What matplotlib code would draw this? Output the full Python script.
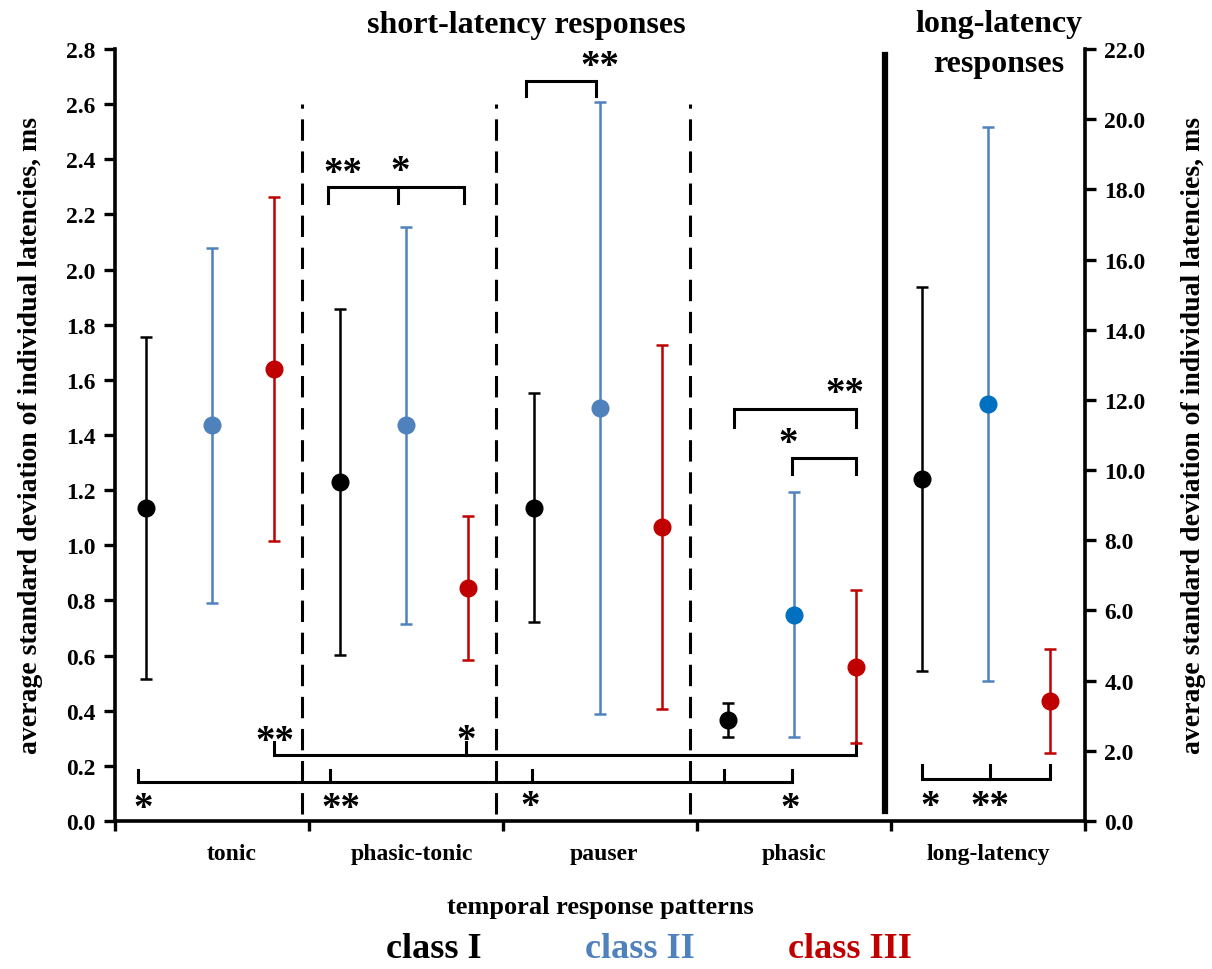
import matplotlib
matplotlib.use("Agg")
import matplotlib.pyplot as plt
import numpy as np

plt.rcParams["font.family"] = ["Liberation Serif", "DejaVu Serif"]
plt.rcParams["font.weight"] = "bold"
plt.rcParams["axes.labelweight"] = "bold"

# data: short-latency patterns (left axis) and long-latency (right axis), ms
patterns = ["tonic", "phasic-tonic", "pauser", "phasic", "long-latency"]
classes = ["class I", "class II", "class III"]
short_mean = {
    "class I": [1.135, 1.23, 1.137, 0.367],
    "class II": [1.435, 1.435, 1.497, 0.748],
    "class III": [1.64, 0.845, 1.068, 0.56],
}
short_sd = {
    "class I": [0.62, 0.627, 0.417, 0.062],
    "class II": [0.643, 0.72, 1.11, 0.445],
    "class III": [0.625, 0.26, 0.66, 0.278],
}
long_mean = {"class I": 9.75, "class II": 11.88, "class III": 3.42}
long_sd = {"class I": 5.48, "class II": 7.9, "class III": 1.49}

# significance brackets: (leg x positions, bar y, leg end y) in left-axis units
brackets = [
    ([1.10, 1.46, 1.80], 2.30, 2.24),
    ([2.12, 2.48], 2.684, 2.63),
    ([3.19, 3.82], 1.494, 1.43),
    ([3.49, 3.82], 1.317, 1.26),
    ([0.82, 1.81, 3.82], 0.238, 0.285),
    ([0.12, 1.11, 2.15, 3.14, 3.49], 0.14, 0.185),
    ([4.16, 4.51, 4.82], 0.152, 0.203),
]
stars = [
    ("**", 1.175, 2.376), ("*", 1.47, 2.383), ("**", 2.50, 2.764),
    ("**", 3.76, 1.578), ("*", 3.47, 1.396),
    ("**", 0.825, 0.316), ("*", 1.81, 0.319),
    ("*", 0.144, 0.073), ("**", 1.165, 0.073), ("*", 2.14, 0.08), ("*", 3.48, 0.07),
    ("*", 4.20, 0.08), ("**", 4.51, 0.08),
]

offsets = {"class I": -0.34, "class II": 0.0, "class III": 0.32}
line_colors = {"class I": "#000000", "class II": "#4F81BD", "class III": "#C00000"}
marker_colors = {
    "class I": ["#000000"] * 5,
    "class II": ["#4F81BD", "#4F81BD", "#4F81BD", "#0070C0", "#0070C0"],
    "class III": ["#C00000"] * 5,
}

fig = plt.figure(figsize=(12.12, 9.70), dpi=100)
ax = fig.add_axes([115 / 1212, 148 / 970, 970 / 1212, 772 / 970])
ax2 = ax.twinx()

ax.set_xlim(0, 5)
ax.set_ylim(0, 2.8)
ax2.set_ylim(0, 22)

groups = np.arange(4) + 0.5
for cls in classes:
    xs = groups + offsets[cls]
    for i, x in enumerate(xs):
        ax.errorbar(x, short_mean[cls][i], yerr=short_sd[cls][i], fmt="o",
                    color=line_colors[cls], mfc=marker_colors[cls][i],
                    mec=marker_colors[cls][i], ms=12, elinewidth=1.8,
                    capsize=4.5, capthick=1.8, zorder=3)
    ax2.errorbar(4.5 + offsets[cls], long_mean[cls], yerr=long_sd[cls], fmt="o",
                 color=line_colors[cls], mfc=marker_colors[cls][4],
                 mec=marker_colors[cls][4], ms=12, elinewidth=1.8,
                 capsize=4.5, capthick=1.8, zorder=3)

# separators between response patterns
for x in [0.962, 1.962, 2.962]:
    ax.plot([x, x], [0.025, 2.6], color="black", lw=2.2, ls=(0, (7, 3.5)), zorder=2)
ax.plot([3.97, 3.97], [0.035, 2.78], color="black", lw=4.5, zorder=2)

for legs, ybar, yend in brackets:
    ax.plot([legs[0], legs[-1]], [ybar, ybar], color="black", lw=2.2,
            solid_capstyle="butt", zorder=2)
    for lx in legs:
        ax.plot([lx, lx], [ybar, yend], color="black", lw=2.2, zorder=2)

for txt, sx, sy in stars:
    ax.annotate(txt, xy=(sx, sy), xytext=(0, -12),
                textcoords="offset points", ha="center", va="baseline",
                fontsize=28, fontweight="bold")

# axes styling
ax.spines["top"].set_visible(False)
ax2.spines["top"].set_visible(False)
for sp in ["left", "bottom"]:
    ax.spines[sp].set_linewidth(2.6)
ax2.spines["right"].set_linewidth(2.6)
ax2.spines["left"].set_visible(False)
ax2.spines["bottom"].set_visible(False)

ax.set_yticks(np.arange(0, 2.81, 0.2))
ax.set_yticklabels([f"{v:.1f}" for v in np.arange(0, 2.81, 0.2)], fontsize=17)
ax2.set_yticks(np.arange(0, 22.1, 2.0))
ax2.set_yticklabels([f"{v:.1f}" for v in np.arange(0, 22.1, 2.0)], fontsize=17)
ax.tick_params(axis="y", direction="out", length=8, width=2.4, pad=6)
ax2.tick_params(axis="y", direction="out", length=8, width=2.4, pad=6)

ax.set_xticks(np.arange(0, 5.1, 1))
ax.set_xticklabels([])
ax.tick_params(axis="x", which="major", direction="out", length=7, width=2.4)
ax.set_xticks([0.6, 1.53, 2.52, 3.5, 4.5], minor=True)
ax.set_xticklabels(patterns, minor=True, fontsize=17)
ax.tick_params(axis="x", which="minor", length=0, pad=16)

ax.set_xlabel("temporal response patterns", fontsize=19, labelpad=22)
ax.set_ylabel("average standard deviation of individual latencies, ms", fontsize=20)
ax2.set_ylabel("average standard deviation of individual latencies, ms", fontsize=20)
ax.yaxis.set_label_coords(-0.074, 0.5)
ax2.yaxis.set_label_coords(1.099, 0.5)

ax.text(2.12, 2.89, "short-latency responses", ha="center", va="center", fontsize=23)
ax.text(4.555, 2.82, "long-latency\nresponses", ha="center", va="center", fontsize=23,
        linespacing=1.5)

for cls, lx in zip(classes, [434, 640, 850]):
    fig.text(lx / 1212, 1 - 950 / 970, cls, color=line_colors[cls], ha="center",
             va="center", fontsize=26, fontweight="bold")

fig.savefig("out.png", dpi=100)
